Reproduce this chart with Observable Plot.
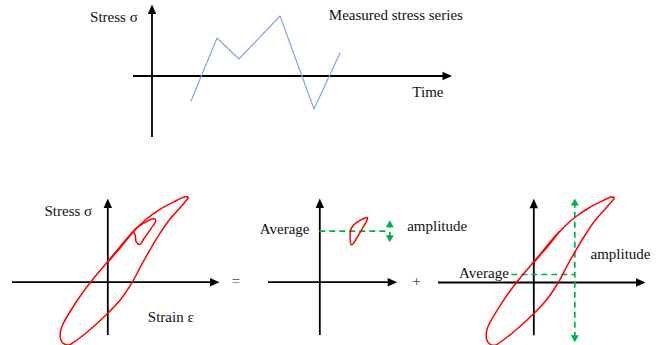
<!DOCTYPE html>
<html>
<head>
<meta charset="utf-8">
<script src="https://cdn.jsdelivr.net/npm/d3@7"></script>
<script src="https://cdn.jsdelivr.net/npm/@observablehq/plot@0.6"></script>
<style>
  body { margin: 0; background: #fff; }
  #figure { position: relative; width: 667px; height: 345px; overflow: hidden; background: #fff; }
  #figure svg { position: absolute; overflow: visible; }
</style>
</head>
<body>
<div id="figure"></div>
<script>
// ---- Measured stress history (time, stress) ----
const seriesTime   = [3.9, 6.5, 8.7, 12.8, 16.2, 18.8];
const seriesStress = [-25, 38, 17, 60, -33, 23];
const timeAxisRange    = [-1.85, 30];
const historyAxisRange = [-61.5, 71.5];

// ---- Full stress–strain hysteresis loop (strain, stress) ----
// unloading branch (upper left), a short reload/unload near the origin,
// upper tip, then the loading branch (lower right) back to the lower tip
const loopStrain = [-3.9, -4.4, -4.7, -4.75, -4.6, -3.06, -1.73, -0.06, 1.1, 2.55, 1.25, 0.15, 0.6, 1.3,
                    2.65, 3.5, 4.3, 5.5, 6.6, 7.3, 7.75, 8.05, 7.75, 7.0, 6.2, 5.1, 4.2, 3.3,
                    2.45, 1.3, 0.0, -1.73, -3.4];
const loopStress = [-62.8, -61.5, -57.5, -51, -44.5, -18.3, 0, 20, 34, 51.3, 35, 21.5, 27, 35,
                    51.5, 60, 66.5, 74.5, 80.3, 83.8, 85.5, 84.6, 80.5, 72, 63, 47, 32, 16,
                    0, -17, -31, -47, -60];

// Small inner cycle sitting on the loading branch
const innerStrain = [2.6, 3.6, 4.6, 4.8, 4.3, 3.6, 3.2, 2.85, 2.75];
const innerStress = [51.5, 59, 63.4, 61.7, 53.4, 43.4, 37.7, 40, 46.7];

// Mean-stress cycle
const meanCycleStrain = [3.14, 3.04, 3.07, 3.34, 3.9, 4.57, 4.77, 4.74, 4.24, 3.74, 3.34];
const meanCycleStress = [37.4, 43.4, 51.7, 56.7, 61, 64.4, 64.7, 62.4, 53.4, 45, 38.4];

// Stress–strain axes
const stressAxisRange    = [-53.3, 83.7];
const strainAxisRange    = [-9.53, 11.17];
const strainAxisRangeMid = [-5.13, 7.74];

// Average / amplitude decomposition
const averageStress   = [51, 8];          // mean cycle, full cycle
const amplitudeStrain = [7.0, 4.1];       // where each amplitude arrow is drawn
const amplitudeMid    = [40, 62];         // stress span of the mean-cycle arrow
const amplitudeFull   = [-59.7, 84];      // stress span of the full-cycle arrow
const averageFromStrain = -2.2;

const FONT = '"Liberation Serif", "Times New Roman", serif';
const RED = "#ff0000", GREEN = "#00b050", BLUE = "#84a7dc", INK = "#111";

const pts = (xs, ys) => xs.map((x, i) => ({x, y: ys[i]}));

function panel({left, top, width, height, ox, oy, kx = 10, ky = 1, marks}) {
  // ox, oy: pixel position of the origin inside the panel; kx, ky: pixels per unit
  const svg = Plot.plot({
    width, height, margin: 0,
    x: {domain: [-ox / kx, (width - ox) / kx], axis: null},
    y: {domain: [-(height - oy) / ky, oy / ky], axis: null},
    style: {background: "transparent", fontFamily: FONT, fontSize: "15px", overflow: "visible"},
    marks
  });
  svg.style.left = left + "px";
  svg.style.top = top + "px";
  document.getElementById("figure").append(svg);
}

function axes(xr, yr, kx = 10, ky = 1) {
  return [
    Plot.ruleY([0], {x1: xr[0], x2: xr[1] - 4 / kx, stroke: "black", strokeWidth: 1.8}),
    Plot.ruleX([0], {y1: yr[0], y2: yr[1] - 4 / ky, stroke: "black", strokeWidth: 1.8}),
    Plot.vector([{x: xr[1], y: 0, a: 90}, {x: 0, y: yr[1], a: 0}], {
      x: "x", y: "y", rotate: "a", shape: "spike", anchor: "end",
      length: 9.5, r: 4.2, fill: "black", stroke: "none"
    })
  ];
}

function label(text, x, y, dx, dy, textAnchor, fill = INK) {
  return Plot.text([text], {x, y, text: d => d, dx, dy, textAnchor, fill, fontSize: 15, fontFamily: FONT});
}

function greenArrow(x, span, ky = 1) {
  return [
    Plot.ruleX([x], {y1: span[0] + 4 / ky, y2: span[1] - 4 / ky, stroke: GREEN, strokeWidth: 1.7, strokeDasharray: "6,4"}),
    Plot.vector([{y: span[1], a: 0}, {y: span[0], a: 180}], {
      x: () => x, y: "y", rotate: "a", shape: "spike", anchor: "end",
      length: 7, r: 4, fill: GREEN, stroke: "none"
    })
  ];
}

const loopLine = (xs, ys) =>
  Plot.line(pts(xs, ys), {x: "x", y: "y", curve: "catmull-rom-closed", stroke: RED, strokeWidth: 1.5});

// Top: measured stress series
panel({
  left: 0, top: 0, width: 667, height: 150, ox: 151.5, oy: 75.5,
  marks: [
    ...axes(timeAxisRange, historyAxisRange),
    Plot.line(pts(seriesTime, seriesStress), {x: "x", y: "y", stroke: BLUE, strokeWidth: 1.2}),
    label("Stress σ", 0, historyAxisRange[1], -14.2, 12.2, "end"),
    label("Measured stress series", 0, historyAxisRange[1], 176.8, 10.2, "start"),
    label("Time", timeAxisRange[1], 0, -8.5, 16.4, "end")
  ]
});

// Bottom left: full hysteresis loop
panel({
  left: 0, top: 180, width: 230, height: 165, ox: 107.3, oy: 101.7,
  marks: [
    ...axes(strainAxisRange, stressAxisRange),
    loopLine(loopStrain, loopStress),
    loopLine(innerStrain, innerStress),
    label("Stress σ", 0, stressAxisRange[1], -15.6, 12.5, "end"),
    label("Strain ε", 0, 0, 40, 35.2, "start")
  ]
});

// Bottom middle: mean-stress cycle
panel({
  left: 230, top: 180, width: 200, height: 165, ox: 89.3, oy: 101.7,
  marks: [
    ...axes(strainAxisRangeMid, stressAxisRange),
    Plot.ruleY([averageStress[0]], {x1: 0, x2: amplitudeStrain[0], stroke: GREEN, strokeWidth: 1.7, strokeDasharray: "6,4"}),
    ...greenArrow(amplitudeStrain[0], amplitudeMid),
    loopLine(meanCycleStrain, meanCycleStress),
    label("Average", 0, averageStress[0], -10.3, -2.2, "end"),
    label("amplitude", amplitudeStrain[0], averageStress[0], 17.4, -5.5, "start"),
    label("=", strainAxisRangeMid[0], 0, -32.5, -1, "middle", "#444"),
    label("+", strainAxisRangeMid[1], 0, 19.3, -1, "middle", "#444")
  ]
});

// Bottom right: loop with average and amplitude marked
panel({
  left: 430, top: 180, width: 237, height: 165, ox: 103.3, oy: 102,
  marks: [
    ...axes(strainAxisRange, stressAxisRange),
    Plot.ruleY([averageStress[1]], {x1: averageFromStrain, x2: amplitudeStrain[1], stroke: GREEN, strokeWidth: 1.7, strokeDasharray: "6,4"}),
    ...greenArrow(amplitudeStrain[1], amplitudeFull),
    loopLine(loopStrain, loopStress),
    label("Average", averageFromStrain, averageStress[1], -3, -1.5, "end"),
    label("amplitude", amplitudeStrain[1], averageStress[1], 15.7, -20.5, "start")
  ]
});
</script>
</body>
</html>
